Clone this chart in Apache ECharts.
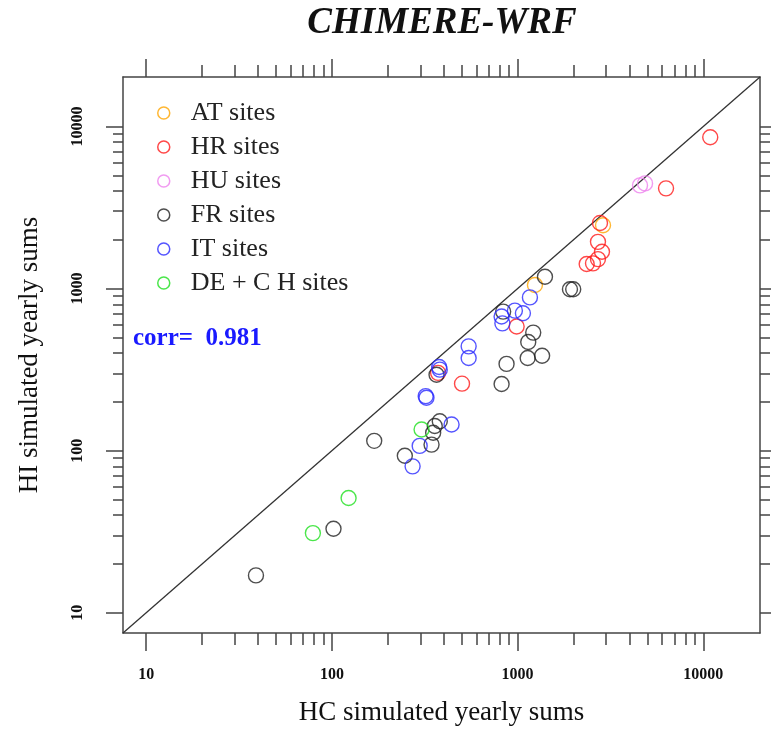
<!DOCTYPE html>
<html>
<head>
    <meta charset="utf-8">
    <title>CHIMERE-WRF</title>
    <script src="https://cdn.jsdelivr.net/npm/echarts@6.0.0/dist/echarts.min.js"></script>
    <style>
        html, body { margin: 0; padding: 0; background: #fff; }
        #main { width: 771px; height: 742px; }
    </style>
</head>
<body>
<div id="main"></div>

<script type="text/javascript">
    // site groups: HC yearly sums (x) vs HI yearly sums (y)
    var atX = [1240, 2884];
    var atY = [1052, 2459];
    var hrX = [10900, 6300, 2778, 2709, 2847, 2709, 2547, 2355, 988, 502, 373];
    var hrY = [8580, 4153, 2541, 1942, 1686, 1520, 1431, 1417, 583, 259, 302];
    var huX = [4563, 4857];
    var huY = [4332, 4457];
    var frX = [1404, 1914, 1993, 836, 1214, 1141, 1133, 1355, 872, 820, 366, 381, 358, 351, 344, 247, 169, 102, 39];
    var frY = [1184, 990, 990, 721, 535, 468, 373, 385, 343, 258, 294, 152, 142, 129, 109, 93, 115, 33, 17];
    var itX = [1165, 967, 1068, 828, 820, 545, 545, 378, 381, 320, 323, 441, 297, 272];
    var itY = [882, 731, 705, 610, 672, 440, 373, 328, 316, 217, 212, 145, 107, 80];
    var deX = [304, 123, 79];
    var deY = [135, 51, 31];

    var groupNames = ['AT sites', 'HR sites', 'HU sites', 'FR sites', 'IT sites', 'DE + C H sites'];
    var groupColors = ['#ffa500', '#ff1a1a', '#ee82ee', '#222222', '#2a2aff', '#1ee01e'];

    var majorTicks = [10, 100, 1000, 10000];
    var minorTicks = [20, 30, 40, 50, 60, 70, 80, 90,
        200, 300, 400, 500, 600, 700, 800, 900,
        2000, 3000, 4000, 5000, 6000, 7000, 8000, 9000];
    var axisMin = 7.5, axisMax = 20200;
    var corrText = 'corr=  0.981';

    var serif = '"Liberation Serif", "DejaVu Serif", serif';
    var frameColor = '#444';

    function zip(xs, ys) {
        var out = [];
        for (var i = 0; i < xs.length; i++) out.push([xs[i], ys[i]]);
        return out;
    }

    // one log axis that only draws a set of ticks (and optionally the frame line)
    function tickAxis(position, values, len, showLine) {
        return {
            type: 'log',
            logBase: 10,
            min: axisMin,
            max: axisMax,
            position: position,
            axisLine: {show: showLine, onZero: false, lineStyle: {color: frameColor, width: 1.5}},
            axisTick: {show: true, customValues: values, length: len, lineStyle: {color: frameColor, width: 1.5}},
            axisLabel: {show: false},
            splitLine: {show: false},
            minorTick: {show: false}
        };
    }

    var dom = document.getElementById('main');
    var myChart = echarts.init(dom, null, {renderer: 'canvas'});

    var xMain = tickAxis('bottom', majorTicks, 18, true);
    xMain.axisLabel = {
        show: true,
        customValues: majorTicks,
        margin: 34,
        fontFamily: serif,
        fontWeight: 'bold',
        fontSize: 16,
        color: '#111',
        formatter: function (v) { return String(Math.round(v)); }
    };
    xMain.name = 'HC simulated yearly sums';
    xMain.nameLocation = 'middle';
    xMain.nameGap = 66;
    xMain.nameTextStyle = {fontFamily: serif, fontSize: 27, color: '#111'};

    var yMain = tickAxis('left', majorTicks, 17, true);
    yMain.axisLabel = {
        show: true,
        customValues: majorTicks,
        margin: 37,
        rotate: 90,
        fontFamily: serif,
        fontWeight: 'bold',
        fontSize: 16,
        color: '#111',
        formatter: function (v) { return String(Math.round(v)); }
    };
    yMain.name = 'HI simulated yearly sums';
    yMain.nameLocation = 'middle';
    yMain.nameGap = 80;
    yMain.nameTextStyle = {fontFamily: serif, fontSize: 27, color: '#111'};

    var series = [];
    var groupsX = [atX, hrX, huX, frX, itX, deX];
    var groupsY = [atY, hrY, huY, frY, itY, deY];
    for (var g = 0; g < groupNames.length; g++) {
        series.push({
            name: groupNames[g],
            type: 'scatter',
            xAxisIndex: 0,
            yAxisIndex: 0,
            symbol: 'circle',
            symbolSize: 15,
            itemStyle: {color: 'rgba(0,0,0,0)', borderColor: groupColors[g], borderWidth: 1.4},
            emphasis: {disabled: true},
            data: zip(groupsX[g], groupsY[g]),
            z: 3
        });
    }
    // 1:1 line
    series.push({
        name: 'one-to-one',
        type: 'line',
        xAxisIndex: 0,
        yAxisIndex: 0,
        symbol: 'none',
        silent: true,
        lineStyle: {color: '#333', width: 1.3},
        data: [[axisMin, axisMin], [axisMax, axisMax]],
        z: 2
    });

    var option = {
        backgroundColor: '#fff',
        animation: false,
        grid: {left: 123, right: 11, top: 77, bottom: 109, containLabel: false},
        xAxis: [
            xMain,
            tickAxis('bottom', minorTicks, 12, false),
            tickAxis('top', majorTicks, 18, true),
            tickAxis('top', minorTicks, 12, false)
        ],
        yAxis: [
            yMain,
            tickAxis('left', minorTicks, 10, false),
            tickAxis('right', majorTicks, 17, true),
            tickAxis('right', minorTicks, 10, false)
        ],
        legend: {
            data: groupNames,
            orient: 'vertical',
            left: 152,
            top: 95,
            itemWidth: 44,
            itemHeight: 12,
            itemGap: 8,
            icon: 'circle',
            itemStyle: {borderWidth: 1.5},
            textStyle: {fontFamily: serif, fontSize: 26, color: '#222', lineHeight: 25},
            selectedMode: false
        },
        graphic: [
            {
                type: 'text',
                x: 442,
                y: 23,
                style: {
                    text: 'CHIMERE-WRF',
                    font: 'italic bold 37px ' + serif,
                    fill: '#111',
                    textAlign: 'center',
                    textVerticalAlign: 'middle'
                }
            },
            {
                type: 'text',
                x: 133,
                y: 339,
                style: {
                    text: corrText,
                    font: 'bold 25px ' + serif,
                    fill: '#1a1aff',
                    textAlign: 'left',
                    textVerticalAlign: 'middle'
                }
            }
        ],
        series: series
    };

    myChart.setOption(option);
    window.addEventListener('resize', myChart.resize);
</script>
</body>
</html>
